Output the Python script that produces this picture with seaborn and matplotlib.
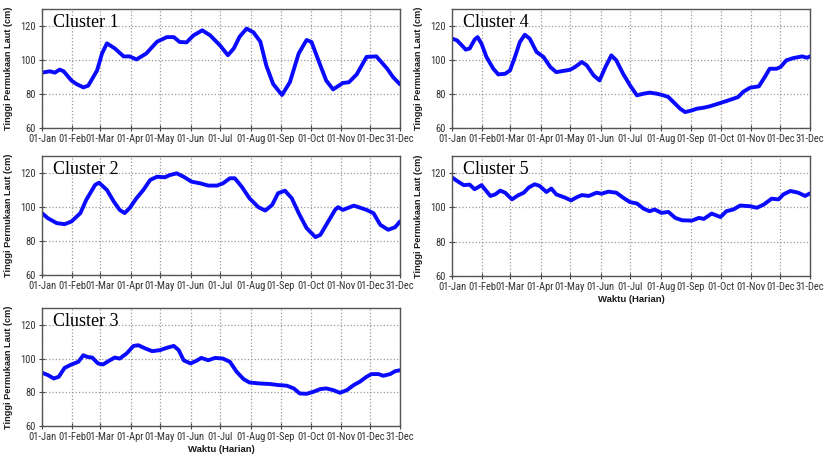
import matplotlib
matplotlib.use("Agg")
import matplotlib.pyplot as plt
from matplotlib import font_manager
import pandas as pd
import seaborn as sns

# Daily sea-level height per cluster (cm), sampled by day of year
c1_day = [1, 9, 14, 19, 23, 31, 36, 43, 48, 57, 62, 67, 75, 84, 90, 97, 107, 118, 128, 135,
          141, 148, 155, 164, 172, 182, 190, 196, 202, 209, 216, 223, 229, 236, 245, 253, 262, 270, 275, 284,
          290, 297, 307, 313, 321, 331, 341, 352, 358, 365]
c1_val = [92.7, 93.5, 92.7, 94.5, 93.5, 88, 86, 84, 85, 94, 104, 110, 107, 102.3, 102.3, 100.5, 104, 111, 113.7, 113.7,
          110.8, 110.6, 114.7, 117.7, 114.7, 108.8, 103, 107, 114, 118.7, 116.5, 111, 97, 86, 79.5, 87, 104, 112, 110.8, 97,
          88, 82.8, 86.6, 87, 91.7, 102, 102.3, 95, 90, 85.8]

c2_day = [1, 7, 16, 24, 31, 40, 46, 55, 59, 67, 74, 80, 85, 90, 97, 104, 111, 118, 126, 131,
          138, 145, 153, 162, 170, 179, 185, 192, 197, 204, 212, 221, 228, 235, 241, 248, 255, 262, 270, 279,
          284, 290, 299, 302, 307, 318, 326, 331, 338, 345, 353, 360, 365]
c2_val = [96.4, 93.4, 90.5, 89.9, 91.5, 96.4, 104.2, 113, 114.3, 110, 103.2, 98.3, 96.4, 99.3, 105.1, 110, 115.9, 117.8, 117.5, 118.8,
          119.8, 117.8, 114.9, 113.9, 112.6, 112.6, 113.9, 116.9, 116.9, 112, 105.1, 99.9, 97.9, 101.2, 108.1, 109.6, 105.1, 96.4, 87.6, 82.3,
          83.6, 89.5, 98.3, 99.9, 98.3, 100.8, 99.3, 98.3, 96.4, 89.5, 86.6, 88.1, 91.5]

c3_day = [1, 7, 13, 18, 24, 31, 38, 43, 47, 52, 58, 63, 70, 75, 80, 87, 94, 99, 106, 113,
          121, 128, 135, 140, 145, 152, 158, 163, 170, 177, 185, 192, 199, 206, 212, 223, 233, 241, 250, 257,
          263, 270, 277, 284, 290, 297, 304, 311, 318, 324, 331, 336, 343, 348, 355, 360, 365]
c3_val = [91.6, 90.2, 88.2, 89.2, 94.5, 96.5, 98.1, 102, 101, 100.6, 97.1, 96.5, 99, 100.6, 100, 103, 107.5, 107.9, 106, 104.4,
          105, 106.4, 107.5, 105, 99, 97.1, 98.7, 100.4, 99, 100.4, 100, 98.1, 92.1, 87.8, 85.8, 85.2, 84.9, 84.3, 83.9, 82.3,
          79.3, 79.1, 80.3, 81.9, 82.3, 81.3, 79.7, 81.3, 84.3, 86.2, 89.2, 90.8, 90.8, 89.8, 90.8, 92.5, 93.1]

c4_day = [1, 6, 11, 15, 19, 24, 27, 31, 36, 43, 48, 55, 60, 65, 70, 75, 80, 87, 94, 101,
          107, 114, 121, 126, 133, 138, 145, 151, 157, 163, 168, 175, 182, 189, 196, 202, 209, 216, 221, 226,
          233, 238, 245, 250, 257, 263, 274, 284, 292, 297, 304, 313, 319, 324, 331, 335, 341, 348, 357, 362, 365]
c4_val = [112.8, 111.8, 108.8, 106.3, 107, 112.2, 113.7, 109.8, 102, 95, 91.7, 92, 94, 102, 110.8, 115.1, 112.8, 104.9, 102, 96,
          93, 93.7, 94.4, 96, 99, 97, 91.1, 88.1, 96, 102.9, 100, 92, 85.2, 79.3, 80.3, 80.9, 80.3, 79.3, 78.3, 75.4,
          71.4, 69.4, 70.4, 71.4, 72, 72.8, 74.8, 76.7, 78.3, 81.3, 83.8, 84.6, 90.1, 95, 95, 96, 100, 101.3, 102.3, 101.5, 102.3]

c5_day = [1, 6, 13, 19, 24, 31, 40, 45, 50, 55, 62, 68, 74, 79, 85, 90, 97, 102, 107, 116,
          122, 128, 133, 140, 148, 153, 160, 168, 175, 182, 189, 196, 202, 207, 214, 221, 228, 235, 245, 252,
          257, 265, 274, 280, 287, 294, 304, 311, 318, 326, 333, 338, 345, 353, 360, 365]
c5_val = [117.5, 115.5, 113, 113.3, 110.6, 113, 106.7, 107.6, 109.8, 108.6, 104.7, 107, 108.6, 111.6, 113.5, 112.6, 109, 111, 107.6, 105.7,
          104.1, 106, 107.2, 106.7, 108.6, 108, 109.2, 108.6, 105.7, 103.1, 102.3, 99.2, 97.8, 98.8, 96.8, 97.4, 93.9, 92.5, 92.3, 93.9,
          93.3, 96.4, 94.4, 97.8, 98.8, 101.1, 100.7, 99.8, 101.7, 105.1, 104.7, 107.6, 109.6, 108.6, 106.7, 108.2]

tick_days = [1, 32, 60, 91, 121, 152, 182, 213, 244, 274, 305, 335, 365]
tick_labels = ["01-Jan", "01-Feb", "01-Mar", "01-Apr", "01-May", "01-Jun", "01-Jul",
               "01-Aug", "01-Sep", "01-Oct", "01-Nov", "01-Dec", "31-Dec"]
y_ticks = [60, 80, 100, 120]

sns.set_style("ticks")
plt.rcParams["font.family"] = ["Liberation Sans", "DejaVu Sans"]

# Narrow face for the crowded date labels when one is available
installed = {f.name for f in font_manager.fontManager.ttflist}
narrow = None
for cand in ["Liberation Sans Narrow", "Roboto Condensed", "Open Sans Condensed", "Arial Narrow"]:
    if cand in installed:
        narrow = cand
        break
tick_family = [narrow, "Liberation Sans"] if narrow else ["Liberation Sans"]
tick_size = 7.6 if narrow else 6.2

fig = plt.figure(figsize=(8.26, 4.57), dpi=100)
W, H = 826, 457


def make_axes(left, top, right, bottom):
    return fig.add_axes([left / W, 1 - bottom / H, (right - left) / W, (bottom - top) / H])


panels = [
    ("Cluster 1", c1_day, c1_val, make_axes(42, 9.5, 400, 128), False),
    ("Cluster 2", c2_day, c2_val, make_axes(42, 156, 400, 275), False),
    ("Cluster 3", c3_day, c3_val, make_axes(42, 308, 400, 426), True),
    ("Cluster 4", c4_day, c4_val, make_axes(452, 9.5, 810, 128), False),
    ("Cluster 5", c5_day, c5_val, make_axes(452, 156, 810, 276), True),
]

for name, days, vals, ax, show_xlabel in panels:
    df = pd.DataFrame({"hari": days, "tinggi": vals})
    sns.lineplot(data=df, x="hari", y="tinggi", ax=ax, color="#0a0aff",
                 linewidth=2.8, solid_joinstyle="round", solid_capstyle="round")
    ax.set_xlim(1, 365)
    ax.set_ylim(60, 130)
    ax.set_xticks(tick_days)
    ax.set_xticklabels(tick_labels, family=tick_family, fontsize=tick_size)
    ax.set_yticks(y_ticks)
    ax.set_yticklabels([str(v) for v in y_ticks], family=tick_family, fontsize=tick_size)
    ax.grid(True, linestyle=":", color="#999999", linewidth=0.9)
    ax.tick_params(direction="inout", length=5, width=0.8, color="#444444",
                   labelcolor="#333333", pad=2)
    for sp in ax.spines.values():
        sp.set_color("#555555")
        sp.set_linewidth(1.0)
        sp.set_visible(True)
    ax.set_ylabel("Tinggi Permukaan Laut (cm)", fontsize=6.6, fontweight="bold",
                  color="#1a1a1a", labelpad=5)
    if show_xlabel:
        ax.set_xlabel("Waktu (Harian)", fontsize=6.8, fontweight="bold",
                      color="#1a1a1a", labelpad=2)
    else:
        ax.set_xlabel("")
    ax.text(0.03, 0.85, name, transform=ax.transAxes, family=["Liberation Serif", "DejaVu Serif"],
            fontsize=13, color="black", va="baseline", ha="left")

fig.savefig("out.png", dpi=100)
